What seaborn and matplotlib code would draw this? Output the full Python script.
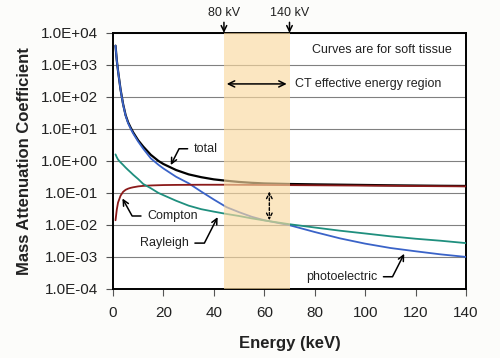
import numpy as np
import pandas as pd
import matplotlib
matplotlib.use('Agg')
import matplotlib.pyplot as plt
import matplotlib.ticker as mticker
import seaborn as sns

# Данные, мягкая ткань
energy = [1, 1.5, 2, 3, 4, 5, 6, 7, 8, 10, 12, 15, 18, 20, 25, 30, 35, 40, 45, 50, 55, 60,
          70, 80, 90, 100, 110, 120, 130, 140]
total = [4000, 1400, 650, 170, 60, 27, 16, 11, 7.8, 4.4, 2.8, 1.55, 1.0, 0.8, 0.52, 0.38, 0.31, 0.265,
         0.24, 0.22, 0.207, 0.198, 0.19, 0.185, 0.181, 0.177, 0.173, 0.17, 0.167, 0.165]
photoelectric = [3990, 1390, 645, 167, 58, 26, 15, 10.2, 7.2, 4.0, 2.4, 1.2, 0.76, 0.58, 0.32, 0.2, 0.11,
                 0.062, 0.036, 0.025, 0.018, 0.014, 0.0098, 0.006, 0.0038, 0.0026, 0.0019, 0.0015,
                 0.0012, 0.001]
compton = [0.014, 0.03, 0.05, 0.082, 0.108, 0.125, 0.136, 0.144, 0.15, 0.16, 0.166, 0.171, 0.174, 0.176,
           0.178, 0.179, 0.18, 0.18, 0.18, 0.179, 0.178, 0.177, 0.175, 0.173, 0.171, 0.169, 0.167,
           0.164, 0.162, 0.16]
rayleigh = [1.6, 1.3, 1.1, 0.9, 0.75, 0.62, 0.52, 0.44, 0.37, 0.27, 0.19, 0.14, 0.1, 0.085, 0.057, 0.04,
            0.031, 0.026, 0.022, 0.019, 0.016, 0.0138, 0.0105, 0.0083, 0.0066, 0.0054, 0.0044, 0.0037,
            0.0032, 0.0027]

series_names = ['total', 'photoelectric', 'Compton', 'Rayleigh']
series_colors = ['#000000', '#3a63c8', '#8b1a1a', '#1f8f7e']
ct_band = (44, 70)
y_ticks = [1e-4, 1e-3, 1e-2, 1e-1, 1e0, 1e1, 1e2, 1e3, 1e4]
x_ticks = [0, 20, 40, 60, 80, 100, 120, 140]

df = pd.DataFrame({
    'energy': energy * 4,
    'value': total + photoelectric + compton + rayleigh,
    'curve': sum([[n] * len(energy) for n in series_names], []),
})

sns.set_style('white')
plt.rcParams['font.family'] = ['Liberation Sans', 'DejaVu Sans']

fig = plt.figure(figsize=(5, 3.58), dpi=100)
fig.patch.set_facecolor('#fcfcfa')
ax = fig.add_axes([0.226, 0.193, 0.706, 0.715])

sns.lineplot(data=df, x='energy', y='value', hue='curve', hue_order=series_names,
             palette=series_colors, size='curve', sizes={'total': 1.6, 'photoelectric': 1.3,
                                                         'Compton': 1.3, 'Rayleigh': 1.3},
             legend=False, ax=ax, zorder=3)

ax.set_yscale('log')
ax.set_xlim(0, 140)
ax.set_ylim(1e-4, 1e4)
ax.set_xticks(x_ticks)
ax.set_yticks(y_ticks)
ax.yaxis.set_major_formatter(mticker.FuncFormatter(lambda v, p: f'{v:.1E}'))
ax.yaxis.set_minor_locator(mticker.NullLocator())
ax.tick_params(axis='both', which='major', labelsize=11, direction='out', length=5,
               width=0.8, color='#555555', left=True, bottom=True, labelcolor='#222222')
ax.tick_params(axis='y', pad=6)
ax.tick_params(axis='x', pad=7)
ax.grid(axis='y', color='#808080', linewidth=0.8, zorder=1)
ax.grid(axis='x', visible=False)
for s in ax.spines.values():
    s.set_color('#000000')
    s.set_linewidth(1.4)

# Полоса эффективных энергий КТ
ax.axvspan(ct_band[0], ct_band[1], color='#f9d9a0', alpha=0.65, lw=0, zorder=4)

ax.set_xlabel('Energy (keV)', fontsize=12, fontweight='bold', color='#222222', labelpad=12)
ax.set_ylabel('Mass Attenuation Coefficient', fontsize=12, fontweight='bold',
              color='#222222', labelpad=6)

txt = dict(fontsize=9, color='#222222')
arr = dict(arrowstyle='->,head_length=0.45,head_width=0.22', color='#000000', lw=1.1)

# Подписи кривых
ax.annotate('total', xy=(22.4, 0.62), xytext=(32, 2.4), va='center', ha='left', **txt,
            arrowprops=dict(**arr, connectionstyle='angle,angleA=0,angleB=63,rad=0', relpos=(0, 0.5)),
            zorder=6)
ax.annotate('Compton', xy=(3.2, 0.08), xytext=(13.5, 0.019), va='center', ha='left', **txt,
            arrowprops=dict(**arr, connectionstyle='angle,angleA=0,angleB=-61,rad=0', relpos=(0, 0.5)),
            zorder=6)
ax.annotate('Rayleigh', xy=(42, 0.021), xytext=(10.7, 0.0027), va='center', ha='left', **txt,
            arrowprops=dict(**arr, connectionstyle='angle,angleA=0,angleB=63,rad=0', relpos=(1, 0.5)),
            zorder=6)
ax.annotate('photoelectric', xy=(116, 0.0015), xytext=(76.6, 0.00024), va='center', ha='left', **txt,
            arrowprops=dict(**arr, connectionstyle='angle,angleA=0,angleB=63,rad=0', relpos=(1, 0.5)),
            zorder=6)

# Разница между Комптоном и фотоэффектом
ax.annotate('', xy=(62, 0.0115), xytext=(62, 0.135),
            arrowprops=dict(arrowstyle='<->,head_length=0.4,head_width=0.2', color='#000000', lw=1.0,
                            linestyle=(0, (2, 1.5))), zorder=6)

# Область КТ
ax.annotate('', xy=(ct_band[0], 255), xytext=(ct_band[1], 255),
            arrowprops=dict(arrowstyle='<->,head_length=0.45,head_width=0.22', color='#000000', lw=1.1),
            zorder=6)
ax.text(72.2, 255, 'CT effective energy region', va='center', ha='left', **txt)
ax.text(134.5, 2950, 'Curves are for soft tissue', va='center', ha='right', **txt)

# Напряжения трубки над графиком
for e, lab in zip(ct_band, ['80 kV', '140 kV']):
    ax.annotate(lab, xy=(e, 1.0), xycoords=('data', 'axes fraction'),
                xytext=(0, 10), textcoords='offset points', ha='center', va='bottom', **txt,
                arrowprops=dict(**arr, shrinkA=0, shrinkB=0), annotation_clip=False)

fig.savefig('out.png', dpi=100, facecolor=fig.get_facecolor())
